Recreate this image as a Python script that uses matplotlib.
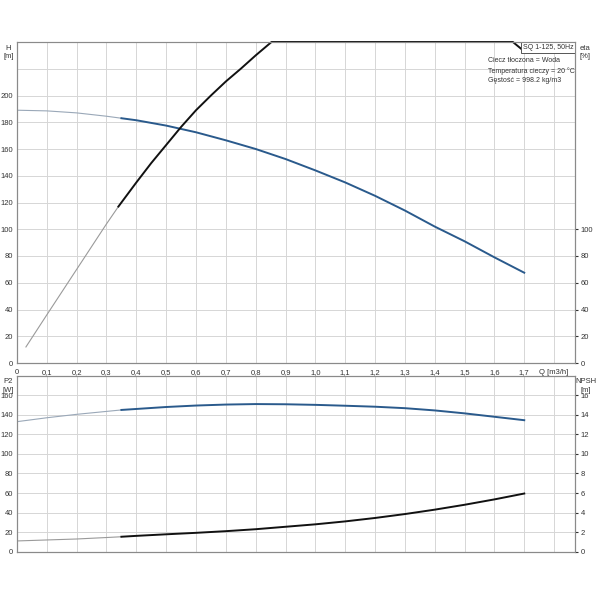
import numpy as np
import matplotlib
matplotlib.use("Agg")
import matplotlib.pyplot as plt

plt.rcParams['font.family'] = ['Liberation Sans', 'DejaVu Sans']

# flow [m3/h]
q = [0.0, 0.1, 0.2, 0.3, 0.35, 0.4, 0.5, 0.6, 0.7, 0.8, 0.9, 1.0, 1.1, 1.2, 1.3, 1.4, 1.5, 1.6, 1.7]
# head [m]
head = [189, 188.5, 187, 184.5, 183, 181.5, 177.5, 172.5, 166.5, 160, 152.5, 144, 135, 125, 114, 102, 91, 79, 67.5]
# power P2 [W]
p2 = [133, 137, 140.5, 143.5, 145, 146, 148, 149.5, 150.5, 151, 150.8, 150.2, 149.3, 148.3, 146.8, 144.5, 141.5, 138, 134.5]
# NPSH [m]
npsh = [1.1, 1.2, 1.3, 1.45, 1.53, 1.62, 1.78, 1.93, 2.1, 2.3, 2.55, 2.8, 3.1, 3.45, 3.85, 4.3, 4.8, 5.35, 5.95]

# efficiency curve (same scale as head, runs off the top between ~0.85 and ~1.66)
q_eta = [0.03, 0.1, 0.2, 0.3, 0.34, 0.4, 0.45, 0.5, 0.55, 0.6, 0.65, 0.7, 0.75, 0.8, 0.853,
         0.9, 1.0, 1.1, 1.2, 1.3, 1.4, 1.5, 1.6, 1.662, 1.7]
eta = [12, 36, 70, 104, 117, 135, 149.5, 163, 176.5, 189, 200, 210.5, 220, 230, 240,
       248, 262, 273, 280, 283, 280, 271, 254, 240, 233]

xticks = [0.1 * i for i in range(19)]
xlabels = ['0'] + [('%.1f' % v).replace('.', ',') for v in xticks[1:18]] + ['Q [m3/h]']

q = np.array(q)
q_eta = np.array(q_eta)
head = np.array(head)
p2 = np.array(p2)
npsh = np.array(npsh)
eta = np.array(eta)

blue = '#2a5a8c'
thin_blue = '#9aa8b8'
thin_black = '#9a9a9a'
grid_c = '#d6d6d6'
spine_c = '#8a8a8a'
fs = 5.5
fs_info = 5.0

fig = plt.figure(figsize=(6, 6), dpi=100)
ax1 = fig.add_axes([0.0283, 0.395, 0.93, 0.535])
ax2 = fig.add_axes([0.0283, 0.0805, 0.93, 0.2933])

xmax = 1.87
thin = q <= 0.35
thick = q >= 0.35
thin_e = q_eta <= 0.34
thick_e = q_eta >= 0.34

# top panel: H and eta
ax1.plot(q[thin], head[thin], color=thin_blue, lw=0.8)
ax1.plot(q[thick], head[thick], color=blue, lw=1.4)
eta_c = np.clip(eta, None, 240)
ax1.plot(q_eta[thin_e], eta_c[thin_e], color=thin_black, lw=0.8)
ax1.plot(q_eta[thick_e], eta_c[thick_e], color='#111111', lw=1.4, clip_on=False)

ax1.set_xlim(0, xmax)
ax1.set_ylim(0, 240)
ax1.set_xticks(xticks)
ax1.set_xticklabels(xlabels)
ax1.set_yticks(range(0, 241, 20))
ax1.set_yticklabels([str(v) if v <= 200 else '' for v in range(0, 241, 20)])
ax1.tick_params(axis='x', length=0, labelsize=fs, pad=4, colors='#333333')
ax1.tick_params(axis='y', length=0, labelsize=fs, pad=3, colors='#333333')
ax1.grid(True, color=grid_c, lw=0.7)

ax1r = ax1.twinx()
ax1r.set_ylim(0, 240)
ax1r.set_yticks(range(0, 101, 20))
ax1r.tick_params(axis='y', length=2, labelsize=fs, pad=2, colors='#333333')

for a in (ax1, ax1r):
    for s in a.spines.values():
        s.set_color(spine_c)
        s.set_linewidth(0.8)
ax1.spines['top'].set_color('#aaaaaa')

fig.text(0.014, 0.925, 'H\n[m]', fontsize=fs, ha='center', va='top', color='#333333', linespacing=1.3)
fig.text(0.975, 0.925, 'eta\n[%]', fontsize=fs, ha='center', va='top', color='#333333', linespacing=1.3)

ax1.text(0.997, 0.995, 'SQ 1-125, 50Hz', transform=ax1.transAxes, fontsize=fs_info, ha='right', va='top',
         color='#333333', bbox=dict(boxstyle='square,pad=0.3', fc='white', ec='#555555', lw=0.7))
ax1.text(0.845, 0.953, 'Ciecz tłoczona = Woda\nTemperatura cieczy = 20 °C\nGęstość = 998.2 kg/m3',
         transform=ax1.transAxes, fontsize=fs_info, ha='left', va='top', color='#333333', linespacing=1.5)

# bottom panel: P2 and NPSH
ax2.plot(q[thin], p2[thin], color=thin_blue, lw=0.8)
ax2.plot(q[thick], p2[thick], color=blue, lw=1.4)
ax2.set_xlim(0, xmax)
ax2.set_ylim(0, 180)
ax2.set_xticks(xticks)
ax2.set_xticklabels([])
ax2.set_yticks(range(0, 181, 20))
ax2.set_yticklabels([str(v) if v <= 160 else '' for v in range(0, 181, 20)])
ax2.tick_params(axis='x', length=0)
ax2.tick_params(axis='y', length=0, labelsize=fs, pad=3, colors='#333333')
ax2.grid(True, color=grid_c, lw=0.7)

ax2r = ax2.twinx()
ax2r.plot(q[thin], npsh[thin], color=thin_black, lw=0.8)
ax2r.plot(q[thick], npsh[thick], color='#111111', lw=1.4)
ax2r.set_ylim(0, 18)
ax2r.set_yticks(range(0, 17, 2))
ax2r.tick_params(axis='y', length=2, labelsize=fs, pad=2, colors='#333333')

for a in (ax2, ax2r):
    for s in a.spines.values():
        s.set_color(spine_c)
        s.set_linewidth(0.8)

fig.text(0.014, 0.37, 'P2\n[W]', fontsize=fs, ha='center', va='top', color='#333333', linespacing=1.3)
fig.text(0.977, 0.37, 'NPSH\n[m]', fontsize=fs, ha='center', va='top', color='#333333', linespacing=1.3)

fig.savefig('out.png', dpi=100)
